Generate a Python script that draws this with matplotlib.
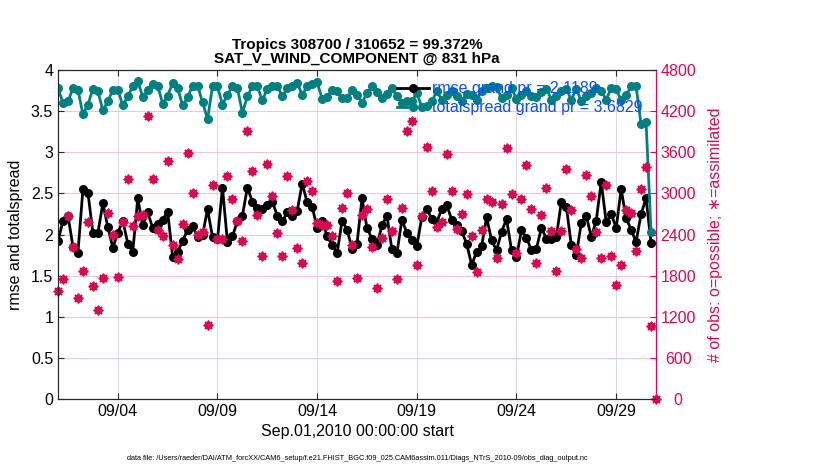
import datetime as dt
import numpy as np
import matplotlib
matplotlib.use("Agg")
import matplotlib.pyplot as plt
import matplotlib.dates as mdates

plt.rcParams['font.family'] = ['Liberation Sans', 'DejaVu Sans']

# 6-hourly bins, Sep 1 2010 00Z .. Oct 1 2010 00Z
start = dt.datetime(2010, 9, 1)
times = [start + dt.timedelta(hours=6 * i) for i in range(121)]

rmse = [1.92, 2.17, 2.23, 1.85, 1.78, 2.55, 2.51, 2.02, 2.02, 2.38,
        2.09, 1.84, 2.02, 2.17, 1.89, 1.79, 2.44, 2.11, 2.27, 2.08,
        2.13, 2.18, 2.28, 1.73, 1.79, 1.92, 2.06, 2.10, 1.97, 1.99,
        2.31, 1.97, 1.94, 2.57, 1.91, 1.98, 2.16, 2.23, 2.57, 2.40,
        2.32, 2.31, 2.36, 2.40, 2.23, 2.16, 2.27, 2.23, 2.29, 2.62,
        2.39, 2.34, 2.08, 2.17, 1.98, 1.87, 1.77, 2.17, 2.06, 1.83,
        1.89, 2.44, 2.08, 1.95, 1.87, 2.11, 2.23, 1.82, 1.77, 2.18,
        2.02, 1.93, 1.86, 2.21, 2.31, 2.19, 2.15, 2.31, 2.36, 2.18,
        2.11, 2.04, 1.89, 1.63, 1.79, 1.86, 2.21, 1.93, 1.81, 2.03,
        2.19, 1.81, 1.73, 2.05, 1.96, 1.81, 1.83, 2.08, 1.95, 1.94,
        1.97, 2.40, 2.34, 1.87, 1.75, 2.14, 2.23, 1.97, 2.17, 2.64,
        2.15, 2.25, 2.08, 2.55, 2.20, 2.06, 1.91, 2.25, 2.44, 1.90,
        np.nan]

totalspread = [3.78, 3.60, 3.62, 3.78, 3.76, 3.46, 3.58, 3.77, 3.74, 3.51,
               3.62, 3.76, 3.76, 3.57, 3.68, 3.80, 3.87, 3.67, 3.76, 3.83,
               3.81, 3.59, 3.69, 3.84, 3.78, 3.57, 3.67, 3.81, 3.81, 3.61,
               3.40, 3.80, 3.80, 3.58, 3.70, 3.80, 3.78, 3.48, 3.68, 3.80,
               3.80, 3.63, 3.77, 3.81, 3.81, 3.68, 3.78, 3.81, 3.84, 3.70,
               3.80, 3.83, 3.85, 3.65, 3.67, 3.76, 3.74, 3.66, 3.66, 3.76,
               3.70, 3.60, 3.72, 3.80, 3.73, 3.66, 3.71, 3.78, 3.68, 3.60,
               3.62, 3.62, 3.72, 3.55, 3.56, 3.62, 3.74, 3.64, 3.70, 3.74,
               3.68, 3.62, 3.71, 3.70, 3.64, 3.74, 3.78, 3.80, 3.79, 3.66,
               3.70, 3.78, 3.65, 3.70, 3.74, 3.69, 3.67, 3.73, 3.77, 3.64,
               3.68, 3.75, 3.77, 3.64, 3.77, 3.62, 3.68, 3.72, 3.78, 3.75,
               3.64, 3.78, 3.77, 3.63, 3.70, 3.80, 3.80, 3.34, 3.37, 2.03,
               np.nan]

nobs = [1569, 1754, 2665, 2217, 1476, 1861, 2583, 1647, 1301, 1764,
        2719, 2388, 1779, 2583, 3216, 2520, 2665, 2680, 4127, 3216,
        2461, 2378, 3470, 2251, 2037, 2549, 3596, 3012, 2398, 2436,
        1087, 3119, 2329, 2339, 3250, 2924, 2592, 2300, 3913, 3333,
        2680, 2081, 3426, 2963, 2427, 2081, 3250, 2753, 2203, 1983,
        3177, 3036, 2573, 2544, 2534, 2378, 1715, 2787, 3007, 2241,
        1764, 2690, 2768, 2217, 1618, 2349, 2924, 2446, 1754, 2787,
        3908, 4054, 1949, 2670, 3679, 3031, 2509, 2583, 3582, 3031,
        2476, 2705, 2997, 2378, 1852, 2461, 2914, 2875, 2057, 2851,
        3665, 2997, 2135, 2924, 3421, 2768, 1988, 2690, 3080, 2446,
        1866, 2451, 3362, 2753, 2193, 2061, 3265, 2963, 2436, 2061,
        3128, 2086, 1657, 1949, 2753, 2714, 2159, 3070, 3387, 1062,
        0]

rmse_label = "rmse grand pr = 2.1189"
spread_label = "totalspread grand pr = 3.6829"

teal = '#008080'
crimson = '#d70a53'
fs = 11.5

fig = plt.figure(figsize=(8.3, 4.7), dpi=100)
ax = fig.add_axes([0.0699, 0.151, 0.7205, 0.70])
ax2 = ax.twinx()

l1, = ax.plot(times, rmse, '-o', color='k', lw=2, ms=5.5, zorder=3)
l2, = ax.plot(times, totalspread, '-o', color=teal, lw=2, ms=5.5, zorder=3)

ax2.plot(times, nobs, 'o', color=crimson, ms=5, ls='none', clip_on=False)
ax2.plot(times, nobs, marker=(8, 2, 0), color=crimson, mew=1.1, ms=7, ls='none', clip_on=False)

ax.set_xlim(times[0], times[-1])
ax.set_ylim(0, 4)
ax.set_yticks(np.arange(0, 4.01, 0.5))
ax.set_yticklabels(['0', '0.5', '1', '1.5', '2', '2.5', '3', '3.5', '4'])
ax2.set_ylim(0, 4800)
ax2.set_yticks(np.arange(0, 4801, 600))

ax.xaxis.set_major_locator(mdates.DayLocator(bymonthday=[4, 9, 14, 19, 24, 29]))
ax.xaxis.set_major_formatter(mdates.DateFormatter('%m/%d'))

ax.grid(axis='x', color='#dcdcdc', lw=0.8)
ax.grid(axis='y', color='#f3c6d5', lw=0.8)
ax.set_axisbelow(True)

ax.tick_params(axis='both', direction='in', labelsize=fs, length=4, top=True, color='#262626')
ax2.tick_params(axis='y', direction='in', labelsize=fs, length=4, colors=crimson, pad=16)
for lab in ax2.get_yticklabels():
    lab.set_horizontalalignment('center')
for s in ['left', 'top', 'bottom']:
    ax.spines[s].set_color('#262626')
    ax2.spines[s].set_color('#262626')
ax2.spines['right'].set_color(crimson)

ax.set_ylabel('rmse and totalspread', fontsize=fs)
ax.yaxis.set_label_coords(-0.058, 0.5)
ax2.set_ylabel('# of obs: o=possible; \u2217=assimilated', fontsize=fs, color=crimson)
ax2.yaxis.set_label_coords(1.087, 0.5)
ax.set_xlabel('Sep.01,2010 00:00:00 start', fontsize=fs, labelpad=4)

ax.set_title('Tropics 308700 / 310652 = 99.372%\nSAT_V_WIND_COMPONENT @ 831 hPa',
             fontsize=11, fontweight='bold', pad=5, linespacing=1.05)

ax2.legend([l1, l2], [rmse_label, spread_label], loc='upper left',
           bbox_to_anchor=(0.556, 0.985), frameon=False, labelcolor='#0a4cff',
           fontsize=fs, handlelength=2.0, handletextpad=0.2, borderaxespad=0,
           labelspacing=0.25, numpoints=1)

fig.text(0.431, 0.0255,
         'data file: /Users/raeder/DAI/ATM_forcXX/CAM6_setup/f.e21.FHIST_BGC.f09_025.CAM6assim.011/Diags_NTrS_2010-09/obs_diag_output.nc',
         fontsize=5.3, ha='center', va='center')

fig.savefig('out.png', dpi=100)
